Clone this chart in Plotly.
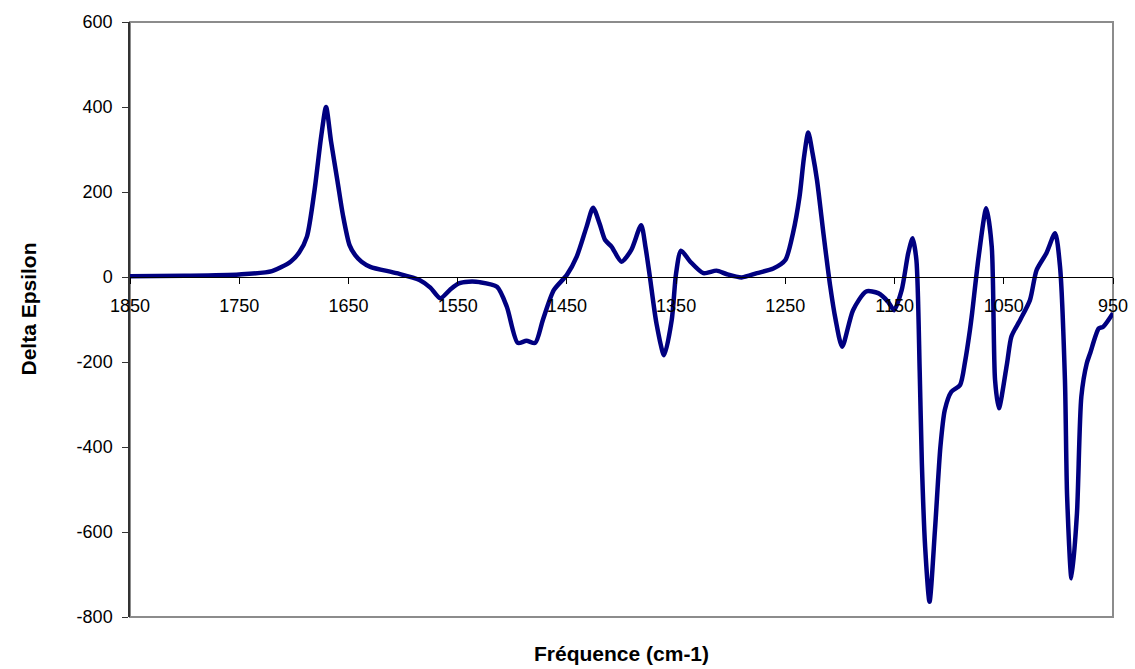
import plotly.graph_objects as go

freq = [1850, 1800, 1750, 1720, 1703, 1695, 1688, 1681, 1675, 1670.5, 1666, 1660, 1655, 1649,
        1644, 1638, 1630, 1606, 1585, 1575, 1566, 1557, 1549, 1540, 1530, 1514, 1505, 1495, 1487,
        1479, 1472, 1462, 1450, 1441, 1432, 1426, 1420, 1415, 1409, 1400, 1391, 1382, 1378,
        1374, 1368, 1361, 1354, 1350, 1345.5, 1337, 1325, 1313, 1304, 1290, 1276, 1261, 1250,
        1243, 1237, 1233, 1229, 1225, 1221, 1215, 1209, 1204, 1198, 1188, 1176, 1165, 1156,
        1150.5, 1143.5, 1137.5, 1133.5, 1130, 1127, 1125, 1122, 1118, 1113, 1108, 1104, 1098,
        1090, 1085.5, 1081, 1079, 1073, 1066, 1061, 1058, 1054.5, 1047, 1043, 1035, 1026, 1020,
        1011, 1003, 998.5, 994, 992, 988, 983, 979, 974, 971, 963, 959, 950]

delta_eps = [2, 3, 6, 14, 36, 58, 95, 205, 330, 400, 320, 225, 145, 75,
             52, 36, 24, 9, -7, -25, -50, -30, -15, -11, -12, -23, -70, -155, -150,
             -155, -101, -31, 5, 48, 118, 163, 125, 87, 71, 36, 64, 122, 70,
             0, -109, -184, -101, 9, 62, 36, 9, 15, 7, -1, 9, 20, 40,
             103, 189, 280, 340, 290, 228, 100, -20, -100, -164, -78, -34, -38, -58,
             -78, -31, 56, 91, 40, -220, -438, -635, -764, -595, -399, -313, -270,
             -254, -200, -125, -85, 48, 162, 71, -242, -309, -203, -140, -101, -54, 16,
             56, 103, 24, -242, -517, -709, -556, -282, -203, -180, -121, -117, -85]

x_ticks = [1850, 1750, 1650, 1550, 1450, 1350, 1250, 1150, 1050, 950]
y_ticks = [600, 400, 200, 0, -200, -400, -600, -800]

fig = go.Figure()
fig.add_trace(go.Scatter(
    x=freq, y=delta_eps, mode="lines",
    line=dict(color="#000080", width=4.5, shape="spline", smoothing=0.7),
    showlegend=False, hoverinfo="x+y"))

font_family = "Liberation Sans, Arial, sans-serif"

fig.update_layout(
    width=1135, height=669,
    margin=dict(l=130, r=22, t=22, b=52, autoexpand=False),
    paper_bgcolor="white", plot_bgcolor="white",
    font=dict(family=font_family, size=18, color="black"),
    xaxis=dict(range=[1850, 950], anchor="free", position=800 / 1400, automargin=False,
               showline=True, linecolor="black", linewidth=1,
               tickmode="array", tickvals=x_ticks, ticktext=[str(v) for v in x_ticks],
               ticks="outside", ticklen=6, tickcolor="black", ticklabelstandoff=6,
               showgrid=False, zeroline=False, tickfont=dict(size=18)),
    yaxis=dict(range=[-800, 600], automargin=False, showline=True, linecolor="#333333",
               linewidth=1.5,
               tickmode="array", tickvals=y_ticks, ticktext=[str(v) for v in y_ticks],
               ticks="outside", ticklen=6, tickcolor="#333333", ticklabelstandoff=6,
               showgrid=False, zeroline=False, tickfont=dict(size=18)),
    shapes=[dict(type="rect", xref="paper", yref="paper", x0=0, x1=1, y0=0, y1=1,
                 line=dict(color="#8c8c8c", width=2), layer="below")],
    annotations=[
        dict(text="<b>Fréquence (cm-1)</b>", xref="paper", yref="paper",
             x=0.5, y=0, yshift=-36, xanchor="center", yanchor="middle",
             showarrow=False, font=dict(size=21, family=font_family)),
        dict(text="<b>Delta Epsilon</b>", xref="paper", yref="paper",
             x=0, xshift=-102, y=0.5, yshift=10, textangle=-90,
             xanchor="center", yanchor="middle",
             showarrow=False, font=dict(size=21, family=font_family)),
    ],
)

fig.write_html(
    "out.html",
    config={"displayModeBar": False},
    post_script="document.body.style.margin='0';document.body.style.overflow='hidden';",
)
